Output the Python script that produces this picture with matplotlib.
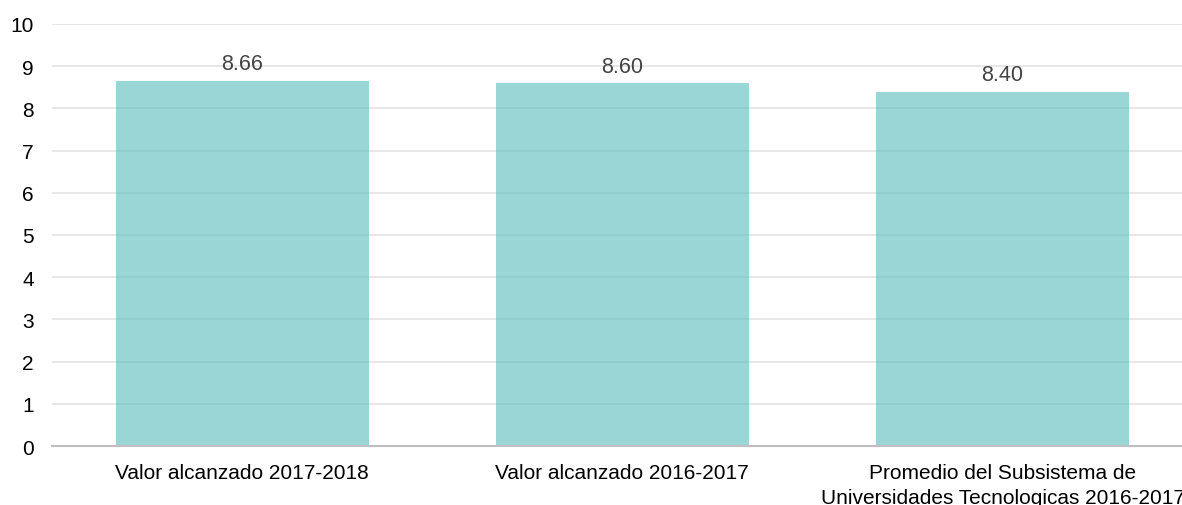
import matplotlib.pyplot as plt

plt.rcParams['font.family'] = ['Liberation Sans', 'DejaVu Sans']

# datos del grafico
categorias = ['Valor alcanzado 2017-2018', 'Valor alcanzado 2016-2017',
              'Promedio del Subsistema de\nUniversidades Tecnologicas 2016-2017']
valores = [8.66, 8.60, 8.40]
etiquetas = ['8.66', '8.60', '8.40']
yticks = list(range(0, 11))

fig = plt.figure(figsize=(11.82, 5.06), dpi=100)
ax = fig.add_axes([0.044, 0.1166, 0.956, 0.834])

ax.yaxis.grid(True, color='#e3e3e3', linewidth=1.2, zorder=0)
ax.set_axisbelow(True)
x = list(range(len(categorias)))
bars = ax.bar(x, valores, width=0.666, color='#57bcbb', alpha=0.6, zorder=2)

# etiquetas de valor encima de cada barra
for b, t in zip(bars, etiquetas):
    ax.annotate(t, (b.get_x() + b.get_width() / 2, b.get_height()),
                xytext=(0, 4.5), textcoords='offset points',
                ha='center', va='bottom', fontsize=15.5, color='#444444')

ax.set_xlim(-0.5, 2.472)
ax.set_ylim(0, 10)
ax.set_yticks(yticks)
ax.set_xticks(x)
ax.set_xticklabels(categorias, fontsize=15, linespacing=1.4)
ax.tick_params(axis='y', length=0, pad=13, labelsize=15)
ax.tick_params(axis='x', length=0, pad=12.5)

for s in ['top', 'right', 'left']:
    ax.spines[s].set_visible(False)
ax.spines['bottom'].set_color('#bfbfbf')
ax.spines['bottom'].set_linewidth(1.5)

fig.savefig('out.png', dpi=100)
